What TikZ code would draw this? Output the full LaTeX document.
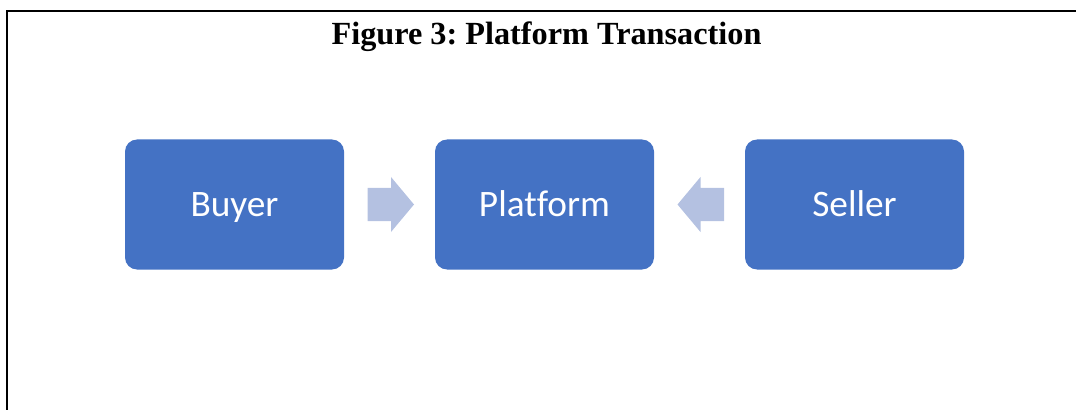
\documentclass[tikz,border=0pt]{standalone}
\usepackage{fontspec}
\setmainfont{Liberation Serif}
\newfontfamily\boxfont[Ligatures=NoCommon]{Carlito}
\definecolor{boxblue}{RGB}{68,114,196}
\definecolor{arrowblue}{RGB}{180,193,225}
\frenchspacing
\begin{document}
\begin{tikzpicture}[x=0.75pt,y=-0.75pt,
  party/.style={fill=boxblue, draw=none, rounded corners=9pt,
    minimum width=164.25pt, minimum height=97.5pt, inner sep=0pt,
    text height=18pt, text depth=0pt,
    text=white, font=\boxfont\fontsize{28}{32}\selectfont},
  flow/.style={fill=arrowblue, draw=none}]
\useasboundingbox (0,0) rectangle (1076,410);
% frame: left and top rules
\draw[line width=1.6pt] (7,410) -- (7,11) -- (1076,11);
% caption
\node[font=\bfseries\fontsize{24.2}{28}\selectfont, anchor=base] (title) at (546.5,44.3) {Figure 3: Platform Transaction};
% three parties
\node[party] (buyer) at (234.5,204.5) {Buyer};
\node[party] (platform) at (544.5,204.5) {Platform};
\node[party] (seller) at (854.5,204.5) {Seller};
% block arrows pointing to the platform
\coordinate (a1) at (367.5,204.5);
\coordinate (a2) at (724,204.5);
\fill[flow] (a1) ++(0,-16.5) -- ++(23.5,0) -- ++(0,-11) -- ++(23,27.5) -- ++(-23,27.5) -- ++(0,-11) -- ++(-23.5,0) -- cycle;
\fill[flow] (a2) ++(0,-16.5) -- ++(-23.5,0) -- ++(0,-11) -- ++(-23,27.5) -- ++(23,27.5) -- ++(0,-11) -- ++(23.5,0) -- cycle;
\end{tikzpicture}
\end{document}
